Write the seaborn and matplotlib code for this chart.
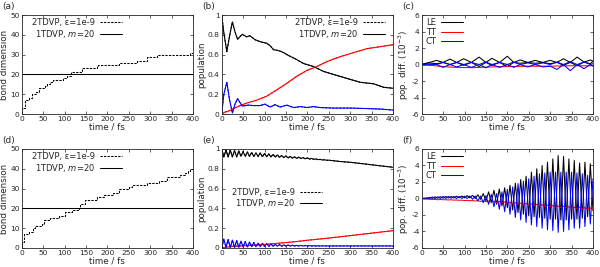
import numpy as np
import pandas as pd
import matplotlib
matplotlib.use("Agg")
import matplotlib.pyplot as plt
from matplotlib.lines import Line2D
from matplotlib.ticker import FuncFormatter, MultipleLocator
import seaborn as sns

# ---------------- data ----------------
# (a) bond dimension, 2TDVP step function (top row)
t_bond_a = [0, 0.5, 8, 18, 23, 33, 41, 55, 60, 66, 74, 97, 105, 115, 140, 175, 179, 226, 269, 292, 316, 392, 400]
bond_a = [0, 3, 7, 8, 10, 11, 13, 14, 15, 16, 17, 18, 19, 21, 23, 24, 25, 26, 27, 29, 30, 31, 31]
# (d) bond dimension, 2TDVP step function (bottom row)
t_bond_d = [0, 0.5, 5.5, 18, 27, 31, 47, 51, 66, 86, 101, 117, 133, 137, 148, 175, 191, 214, 226, 250, 257, 292, 320, 339, 370, 382, 388, 394, 400]
bond_d = [0, 3, 7, 8, 10, 11, 12, 14, 15, 16, 18, 19, 20, 22, 24, 26, 27, 28, 30, 31, 32, 33, 34, 36, 37, 38, 39, 40, 41]
# 1TDVP fixed bond dimension
t_span = [0, 400]
m_1tdvp = [20, 20]

# (b) populations
t_b_le = [0, 5, 12, 18, 25, 31, 37, 48, 58, 66, 78, 90, 105, 113, 121, 133, 145, 152, 175, 191, 214, 238, 261, 292, 324, 355, 378, 400]
pop_b_le = [1.0, 0.82, 0.63, 0.78, 0.93, 0.83, 0.755, 0.805, 0.78, 0.79, 0.75, 0.73, 0.715, 0.69, 0.65, 0.64, 0.62, 0.6, 0.55, 0.51, 0.48, 0.43, 0.4, 0.36, 0.32, 0.305, 0.27, 0.26]
t_b_tt = [0, 8, 16, 35, 58, 82, 105, 129, 152, 175, 199, 222, 246, 277, 308, 339, 370, 400]
pop_b_tt = [0, 0.02, 0.03, 0.07, 0.11, 0.14, 0.18, 0.245, 0.31, 0.38, 0.44, 0.48, 0.53, 0.58, 0.62, 0.66, 0.68, 0.7]
t_b_ct = [0, 5, 12, 18, 25, 31, 37, 48, 62, 74, 90, 101, 113, 125, 136, 152, 168, 184, 199, 214, 230, 261, 300, 339, 370, 400]
pop_b_ct = [0, 0.2, 0.32, 0.15, 0.01, 0.1, 0.155, 0.08, 0.09, 0.085, 0.085, 0.1, 0.07, 0.095, 0.07, 0.09, 0.065, 0.075, 0.065, 0.075, 0.065, 0.06, 0.06, 0.055, 0.05, 0.04]

# (c) population differences (1e-3), upper / lower branches
t_c = [0, 15, 35, 50, 66, 82, 98, 116, 134, 150, 164, 182, 200, 215, 230, 248, 265, 283, 300, 316, 331, 347, 363, 379, 394, 400]
le_c_up = [0, 0.2, 0.5, 0.25, 0.65, 0.25, 0.7, 0.25, 0.9, 0.25, 0.75, 0.25, 1.0, 0.25, 0.55, 0.25, 0.5, 0.25, 0.5, 0.25, 0.7, 0.25, 0.9, 0.3, 0.55, 0.4]
le_c_lo = [0, 0.2, 0.1, 0.25, 0.0, 0.25, -0.1, 0.25, -0.25, 0.25, -0.1, 0.25, -0.25, 0.25, 0.15, 0.25, 0.15, 0.25, 0.1, 0.25, -0.1, 0.25, -0.15, 0.3, 0.1, 0.4]
ct_c_up = [0, 0.05, 0.0, 0.25, 0.0, 0.25, 0.0, 0.25, 0.0, 0.3, 0.0, 0.25, 0.0, 0.3, 0.0, 0.2, 0.0, 0.2, 0.0, 0.3, 0.0, 0.35, 0.0, 0.3, 0.0, 0.1]
ct_c_lo = [0, -0.05, 0.0, -0.35, 0.0, -0.3, 0.0, -0.35, 0.0, -0.4, 0.0, -0.35, 0.0, -0.35, 0.0, -0.3, 0.0, -0.3, -0.2, -0.6, 0.0, -0.75, 0.0, -0.5, 0.0, -0.2]
t_c_tt = [0, 20, 50, 80, 120, 160, 200, 250, 300, 350, 400]
tt_c = [0, -0.1, -0.25, -0.35, -0.38, -0.3, -0.25, -0.2, -0.2, -0.15, -0.15]

# (e) populations, sampled every 5 fs (extrema of the fast oscillation)
t_e = np.arange(0, 401, 5)
pop_e_le = [1.0, 0.92, 0.99, 0.92, 0.99, 0.92, 0.985, 0.92, 0.98, 0.925,
            0.975, 0.925, 0.97, 0.925, 0.965, 0.925, 0.96, 0.925, 0.96, 0.922,
            0.955, 0.922, 0.95, 0.92, 0.945, 0.918, 0.94, 0.915, 0.935, 0.913,
            0.93, 0.91, 0.925, 0.908, 0.92, 0.905, 0.918, 0.903, 0.914, 0.9,
            0.91, 0.898, 0.905, 0.895, 0.9, 0.892, 0.895, 0.889, 0.891, 0.886,
            0.887, 0.884, 0.882, 0.879, 0.877, 0.874, 0.873, 0.87, 0.869, 0.867,
            0.866, 0.863, 0.861, 0.858, 0.856, 0.853, 0.851, 0.848, 0.846, 0.843,
            0.84, 0.838, 0.835, 0.833, 0.83, 0.828, 0.825, 0.823, 0.82, 0.818,
            0.815]
pop_e_ct = [0.0, 0.09, 0.005, 0.085, 0.005, 0.08, 0.005, 0.075, 0.008, 0.07,
            0.01, 0.065, 0.01, 0.06, 0.012, 0.055, 0.012, 0.05, 0.014, 0.047,
            0.015, 0.044, 0.016, 0.04, 0.017, 0.037, 0.018, 0.034, 0.018, 0.032,
            0.019, 0.03, 0.019, 0.028, 0.02, 0.027, 0.02, 0.026, 0.02, 0.025,
            0.02, 0.024, 0.02, 0.023, 0.02, 0.022, 0.02, 0.022, 0.02, 0.021,
            0.02, 0.021, 0.02, 0.021, 0.02, 0.021, 0.02, 0.021, 0.02, 0.021,
            0.02, 0.021, 0.02, 0.021, 0.02, 0.021, 0.02, 0.021, 0.02, 0.021,
            0.02, 0.021, 0.02, 0.021, 0.02, 0.021, 0.02, 0.021, 0.02, 0.021,
            0.02]
t_e_tt = [0, 10, 20, 30, 40, 50, 60, 70, 80, 90, 100, 125, 150, 175, 200, 250, 300, 350, 400]
pop_e_tt = [0, 0.01, 0.012, 0.02, 0.018, 0.025, 0.022, 0.03, 0.028, 0.035, 0.035, 0.045, 0.055, 0.065, 0.078, 0.1, 0.125, 0.15, 0.175]

# (f) population differences (1e-3), sampled every 6.25 fs
t_f = np.arange(0, 400.1, 6.25)
le_f = [0.0, 0.05, 0.0, 0.12, 0.02, 0.2, 0.03, 0.22, 0.04, 0.25,
        0.05, 0.25, 0.06, 0.28, 0.08, 0.3, 0.08, 0.35, 0.08, 0.38,
        0.0, 0.45, -0.1, 0.6, -0.3, 0.8, -0.5, 1.0, -0.7, 1.15,
        -0.9, 1.3, -1.1, 1.6, -1.4, 1.85, -1.7, 2.3, -1.9, 2.7,
        -2.1, 3.2, -2.2, 3.6, -2.3, 4.0, -2.4, 4.4, -2.5, 4.8,
        -2.5, 5.2, -2.6, 5.1, -2.6, 4.8, -2.5, 4.6, -2.5, 4.3,
        -2.4, 4.4, -2.2, 4.2, -1.5]
ct_f = [0.0, -0.05, 0.1, 0.0, 0.2, -0.02, 0.22, 0.0, 0.25, 0.0,
        0.25, 0.02, 0.25, 0.0, 0.25, 0.0, 0.28, 0.0, 0.3, -0.1,
        0.3, -0.3, 0.3, -0.5, 0.35, -0.7, 0.5, -1.0, 0.6, -1.3,
        0.8, -1.6, 1.1, -1.9, 1.4, -2.3, 1.8, -2.6, 2.1, -2.9,
        2.4, -3.2, 2.7, -3.4, 3.0, -3.6, 3.1, -3.8, 3.2, -3.9,
        3.2, -4.1, 3.2, -4.0, 3.2, -3.8, 3.2, -3.6, 3.1, -3.6,
        3.0, -3.4, 2.8, -3.1, 2.4]
tt_f = [0.0, -0.05, -0.08, -0.1, -0.12, -0.1, -0.15, -0.12, -0.15, -0.15,
        -0.18, -0.15, -0.2, -0.18, -0.22, -0.2, -0.25, -0.22, -0.28, -0.25,
        -0.3, -0.28, -0.35, -0.3, -0.4, -0.3, -0.45, -0.35, -0.5, -0.35,
        -0.55, -0.4, -0.55, -0.45, -0.65, -0.5, -0.7, -0.55, -0.75, -0.6,
        -0.75, -0.65, -0.85, -0.7, -0.9, -0.75, -0.95, -0.8, -1.0, -0.85,
        -1.05, -0.9, -1.1, -0.95, -1.1, -1.0, -1.2, -1.05, -1.2, -1.05,
        -1.25, -1.1, -1.3, -1.15, -1.3]

label_2tdvp = "2TDVP, ε=1e-9"
label_1tdvp = "1TDVP, $m$=20"

# ---------------- style ----------------
sns.set_theme(style="ticks")
plt.rcParams.update({
    "font.family": ["DejaVu Sans"],
    "mathtext.fontset": "dejavusans",
    "axes.linewidth": 0.6,
    "xtick.direction": "in", "ytick.direction": "in",
    "xtick.top": True, "ytick.right": True,
    "xtick.major.size": 2.5, "ytick.major.size": 2.5,
    "xtick.major.width": 0.5, "ytick.major.width": 0.5,
    "xtick.labelsize": 5.4, "ytick.labelsize": 5.4,
    "axes.labelsize": 6.3,
    "xtick.major.pad": 1.5, "ytick.major.pad": 1.5,
})

BLACK, RED, BLUE = "#000000", "#ff0000", "#0000ff"
LW = 0.75
DASH = (0, (2.2, 1.2))

fig = plt.figure(figsize=(6, 2.67), dpi=100)
lefts = [0.0362, 0.3695, 0.7028]
bottoms = [0.573, 0.0712]
W, H = 0.2855, 0.3708
axes = [[fig.add_axes([l, b, W, H]) for l in lefts] for b in bottoms]

fmt = FuncFormatter(lambda v, p: "%g" % v)

def common(ax, ylabel, ylim, ystep):
    ax.set_xlim(0, 400)
    ax.set_ylim(*ylim)
    ax.xaxis.set_major_locator(MultipleLocator(50))
    ax.yaxis.set_major_locator(MultipleLocator(ystep))
    ax.yaxis.set_major_formatter(fmt)
    ax.set_xlabel("time / fs", labelpad=0.5)
    ax.set_ylabel(ylabel, labelpad=0.8)
    for s in ax.spines.values():
        s.set_visible(True)

def line(ax, x, y, color, ls="-", **kw):
    sns.lineplot(x=list(x), y=list(y), ax=ax, color=color, linestyle=ls,
                 linewidth=LW, errorbar=None, sort=False, legend=False, **kw)

def method_legend(ax, **kw):
    handles = [Line2D([], [], color=BLACK, lw=LW, ls=DASH),
               Line2D([], [], color=BLACK, lw=LW)]
    ax.legend(handles, [label_2tdvp, label_1tdvp], frameon=False, markerfirst=False,
              fontsize=6.0, handlelength=2.7, handletextpad=0.6, labelspacing=0.05,
              borderpad=0.2, **kw)

def state_legend(ax):
    handles = [Line2D([], [], color=c, lw=LW) for c in (BLACK, RED, BLUE)]
    ax.legend(handles, ["LE", "TT", "CT"], frameon=False, markerfirst=False,
              fontsize=6.0, handlelength=2.7, handletextpad=0.6, labelspacing=0.05,
              borderpad=0.2, loc="upper left", bbox_to_anchor=(0.0, 1.0), borderaxespad=0.2)

# (a) and (d) bond dimension
for ax, tb, vb in [(axes[0][0], t_bond_a, bond_a), (axes[1][0], t_bond_d, bond_d)]:
    line(ax, tb, vb, BLACK, ls=DASH, drawstyle="steps-post")
    line(ax, t_span, m_1tdvp, BLACK)
    common(ax, "bond dimension", (0, 50), 10)
    method_legend(ax, loc="upper left", bbox_to_anchor=(0.04, 1.0), borderaxespad=0.2)

# (b)
ax = axes[0][1]
for ls in ["-", DASH]:
    line(ax, t_b_le, pop_b_le, BLACK, ls=ls)
    line(ax, t_b_tt, pop_b_tt, RED, ls=ls)
    line(ax, t_b_ct, pop_b_ct, BLUE, ls=ls)
common(ax, "population", (0, 1), 0.2)
method_legend(ax, loc="upper right", bbox_to_anchor=(0.975, 1.0), borderaxespad=0.2)

# (e)
ax = axes[1][1]
for ls in ["-", DASH]:
    line(ax, t_e, pop_e_le, BLACK, ls=ls)
    line(ax, t_e_tt, pop_e_tt, RED, ls=ls)
    line(ax, t_e, pop_e_ct, BLUE, ls=ls)
common(ax, "population", (0, 1), 0.2)
method_legend(ax, loc="center left", bbox_to_anchor=(0.04, 0.5), borderaxespad=0.2)

# (c)
ax = axes[0][2]
line(ax, t_c, le_c_up, BLACK)
line(ax, t_c, le_c_lo, BLACK)
line(ax, t_c_tt, tt_c, RED)
line(ax, t_c, ct_c_up, BLUE)
line(ax, t_c, ct_c_lo, BLUE)
common(ax, "pop. diff. (10$^{-3}$)", (-6, 6), 2)
state_legend(ax)

# (f)
ax = axes[1][2]
line(ax, t_f, le_f, BLACK)
line(ax, t_f, tt_f, RED)
line(ax, t_f, ct_f, BLUE)
common(ax, "pop. diff. (10$^{-3}$)", (-6, 6), 2)
state_legend(ax)

# panel labels
for lab, x, y in [("(a)", 0.004, 0.977), ("(b)", 0.337, 0.977), ("(c)", 0.670, 0.977),
                  ("(d)", 0.004, 0.475), ("(e)", 0.337, 0.475), ("(f)", 0.670, 0.475)]:
    fig.text(x, y, lab, fontsize=6.5, va="center", ha="left")

fig.savefig("out.png", dpi=100)
